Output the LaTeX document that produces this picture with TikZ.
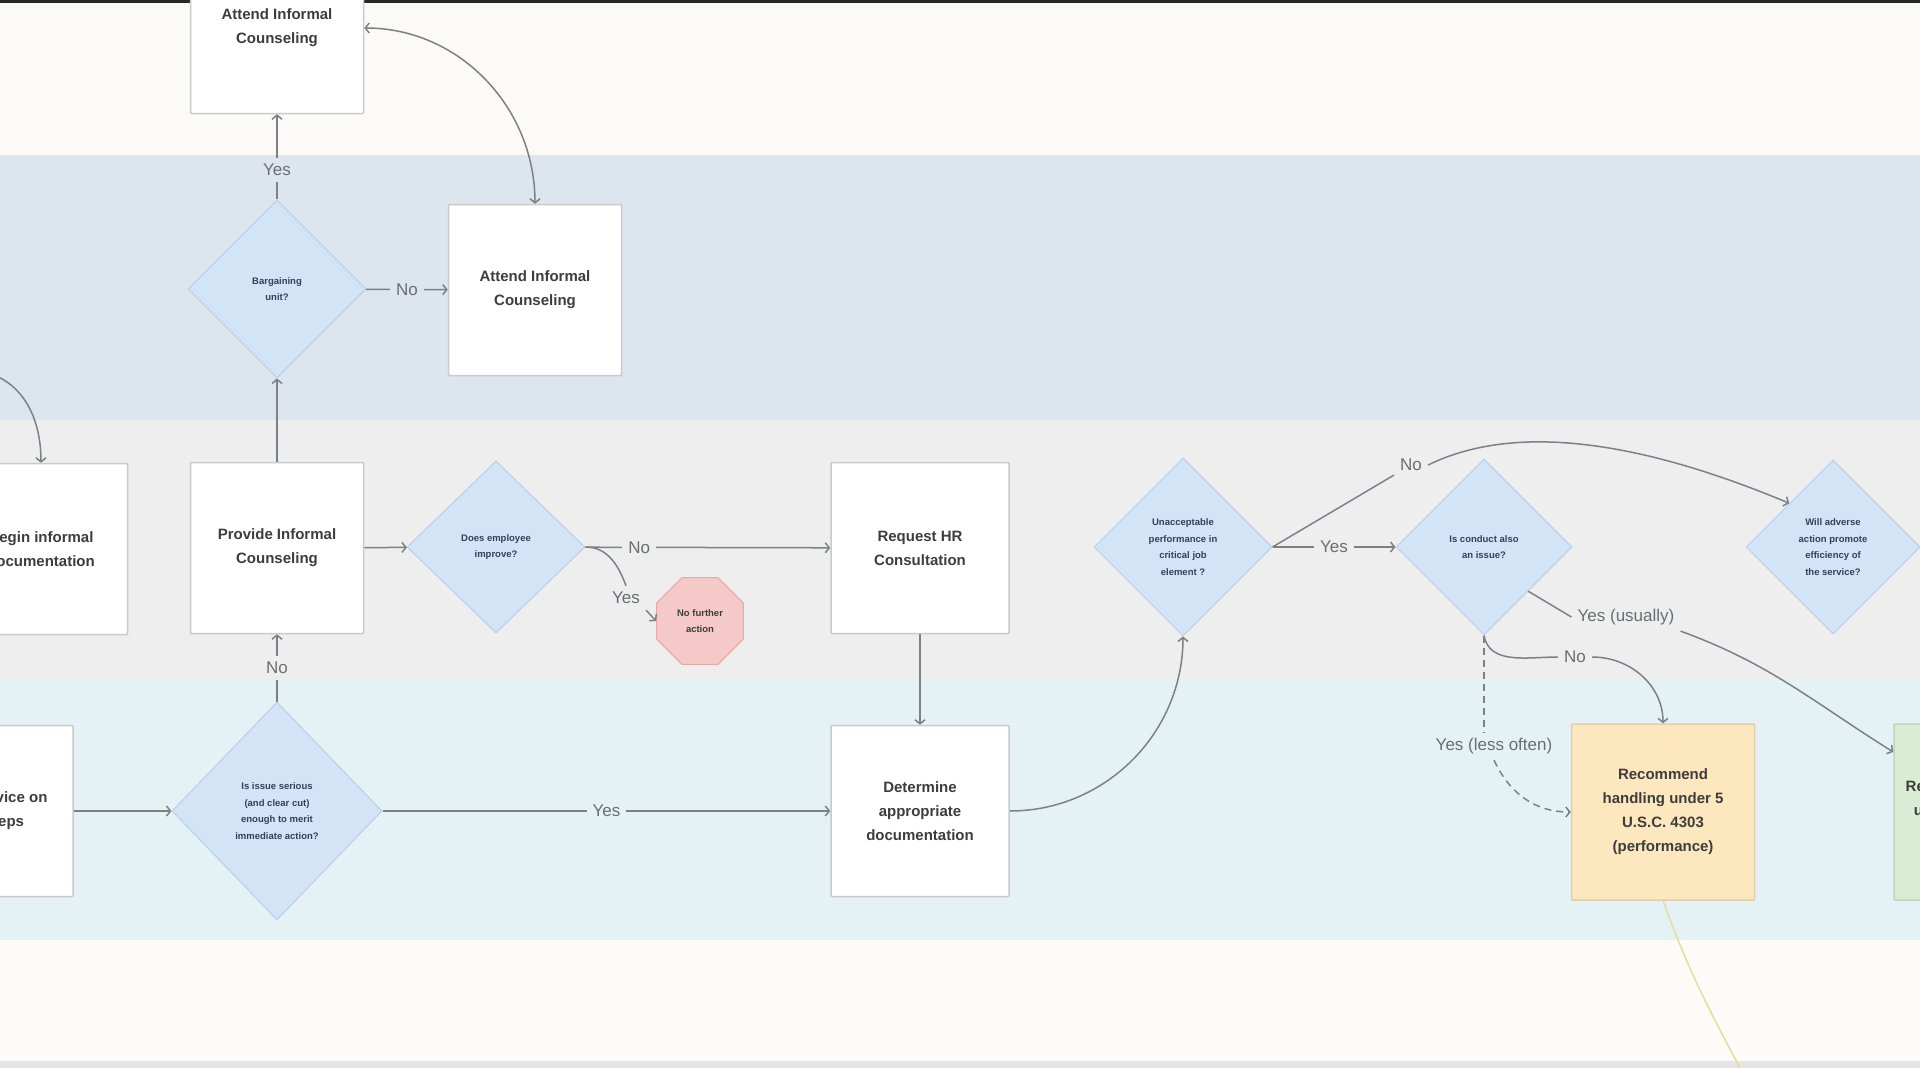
\documentclass[tikz,border=0pt]{standalone}
\usepackage{fontspec}
\setmainfont{Liberation Sans}
\usetikzlibrary{shapes.geometric,arrows.meta}

\definecolor{bandtop}{HTML}{FBFAF6}
\definecolor{bandblue}{HTML}{DDE5EE}
\definecolor{bandgrey}{HTML}{EEEEEE}
\definecolor{bandcyan}{HTML}{E5F2F5}
\definecolor{bandbot}{HTML}{FCFBF8}
\definecolor{boxline}{HTML}{C8CACC}
\definecolor{boxtext}{HTML}{3D3D3D}
\definecolor{dialine}{HTML}{B9CEE8}
\definecolor{diafill}{HTML}{D3E4F7}
\definecolor{diatext}{HTML}{34405A}
\definecolor{arrowc}{HTML}{7D8186}
\definecolor{lbltext}{HTML}{6A6E73}
\definecolor{stopfill}{HTML}{F5C9C8}
\definecolor{stopline}{HTML}{E7A9A8}
\definecolor{orangefill}{HTML}{FCE7BE}
\definecolor{greenfill}{HTML}{D8EDD3}
\definecolor{yellowline}{HTML}{E3DE9E}

\tikzset{
  box/.style={draw=boxline, line width=1.5pt, fill=white, rounded corners=1pt,
    minimum width=173pt, minimum height=171pt, align=center,
    font=\fontsize{15}{24}\selectfont\bfseries, text=boxtext},
  decide/.style={diamond, aspect=1, draw=dialine, line width=1pt, fill=diafill,
    minimum width=178pt, minimum height=178pt, inner sep=0pt, align=center,
    font=\fontsize{9.5}{16.5}\selectfont\bfseries, text=diatext},
  stopsign/.style={regular polygon, regular polygon sides=8, minimum size=94pt,
    draw=stopline, line width=1pt, fill=stopfill, inner sep=0pt, align=center,
    font=\fontsize{9.5}{16.5}\selectfont\bfseries, text=boxtext},
  lbl/.style={font=\fontsize{17}{17}\selectfont, text=lbltext, inner sep=6pt},
  line/.style={draw=arrowc, line width=1.5pt},
  flow/.style={line, -{Straight Barb[length=4pt,width=10pt]}},
  lessoften/.style={dash pattern=on 7pt off 5pt},
}

\begin{document}
\begin{tikzpicture}[x=1pt,y=1pt]
\useasboundingbox (0,0) rectangle (1920,-1068);
\clip (0,0) rectangle (1920,-1068);

% swimlanes
\fill[bandtop] (0,0) rectangle (1920,-155);
\fill[bandblue] (0,-155) rectangle (1920,-420);
\fill[bandgrey] (0,-420) rectangle (1920,-680);
\fill[bandcyan] (0,-680) rectangle (1920,-940);
\fill[bandbot] (0,-940) rectangle (1920,-1061);
\fill[black!10] (0,-1061) rectangle (1920,-1068);
\fill[black!85] (0,0) rectangle (1920,-3);

% steps
\node[box] (att1) at (277,-28) {Attend Informal\\Counseling};
\node[decide] (barg) at (277,-289) {Bargaining\\unit?};
\node[box] (att2) at (535,-290) {Attend Informal\\Counseling};
\node[box] (begdoc) at (41,-549) {Begin informal\\documentation};
\node[box] (provc) at (277,-548) {Provide Informal\\Counseling};
\node[decide, minimum height=172pt] (improve) at (496,-547) {Does employee\\improve?};
\node[stopsign] (nofurther) at (700,-621) {No further\\action};
\node[box, minimum width=178pt] (reqhr) at (920,-548) {Request HR\\Consultation};
\node[box, minimum width=172pt] (advice) at (-13,-811) {Obtain advice on\\next steps};
\node[decide, minimum width=210pt, minimum height=218pt] (serious) at (277,-811)
  {Is issue serious\\(and clear cut)\\enough to merit\\immediate action?};
\node[box, minimum width=178pt] (determ) at (920,-811) {Determine\\appropriate\\documentation};
\node[decide] (unacc) at (1183,-547) {Unacceptable\\performance in\\critical job\\element ?};
\node[decide, minimum width=176pt, minimum height=176pt] (conduct) at (1484,-547) {Is conduct also\\an issue?};
\node[decide, minimum width=174pt, minimum height=174pt] (adverse) at (1833,-547)
  {Will adverse\\action promote\\efficiency of\\the service?};
\node[box, draw=orangefill!90!black, fill=orangefill, minimum width=183pt, minimum height=176pt]
  (rec4303) at (1663,-812) {Recommend\\handling under 5\\U.S.C. 4303\\(performance)};
\node[box, draw=greenfill!90!black, fill=greenfill, minimum width=180pt, minimum height=176pt]
  (rec75) at (1984,-812) {Recommend handling\\under 5 U.S.C. 7513\\(conduct)};

% labels that sit on curved connectors
\node[lbl] (yimp) at (626,-598) {Yes};
\node[lbl] (nua) at (1411,-465) {No};
\node[lbl] (ncd) at (1575,-657) {No};
\node[lbl] (ylo) at (1494,-746) {Yes (less often)};
\node[lbl] (yus) at (1626,-617) {Yes (usually)};
\coordinate (docin) at (-15,-372);
\coordinate (yend) at (1740,-1068);

% connectors
\draw[line, {Straight Barb[length=4pt,width=10pt]}-{Straight Barb[length=4pt,width=10pt]}]
  (att1.east) to[out=0,in=90] (att2.north);
\draw[flow] (barg) -- node[lbl, fill=bandblue, pos=0.35] {Yes} (att1);
\draw[flow] (barg) -- node[lbl, fill=bandblue] {No} (att2);
\draw[flow] (docin) to[out=-15,in=90] (begdoc.north);
\draw[flow] (provc) -- (barg);
\draw[flow] (provc) -- (improve);
\draw[flow] (serious) -- node[lbl, fill=bandgrey] {No} (provc);
\draw[flow] (improve) -- node[lbl, fill=bandgrey, pos=0.22] {No} (reqhr);
\draw[line] (improve.east) to[out=0,in=110] (yimp.north);
\draw[flow] (yimp.south east) -- (nofurther.west);
\draw[flow] (reqhr) -- (determ);
\draw[flow] (advice) -- (serious);
\draw[flow] (serious) -- node[lbl, fill=bandcyan] {Yes} (determ);
\draw[flow] (determ.east) to[out=0,in=-90] (unacc.south);
\draw[flow] (unacc) -- node[lbl, fill=bandgrey] {Yes} (conduct);
\draw[line] (unacc.east) -- (nua);
\draw[flow] (nua.east) .. controls (1520,-420) and (1650,-445) .. (adverse.north west);
\draw[line] (conduct.south) to[out=-80,in=180] (ncd.west);
\draw[flow] (ncd.east) to[out=0,in=90] (rec4303.north);
\draw[line, lessoften] (conduct.south) -- (conduct.south |- ylo.north);
\draw[flow, lessoften] (ylo.south) to[out=-65,in=180] (rec4303.west);
\draw[line] (conduct.south east) -- (yus.west);
\draw[flow] (yus.south east) to[out=-20,in=148] ([yshift=60pt]rec75.west);
\draw[yellowline, line width=1.5pt] (rec4303.south) to[out=-70,in=118] (yend);
\end{tikzpicture}
\end{document}
